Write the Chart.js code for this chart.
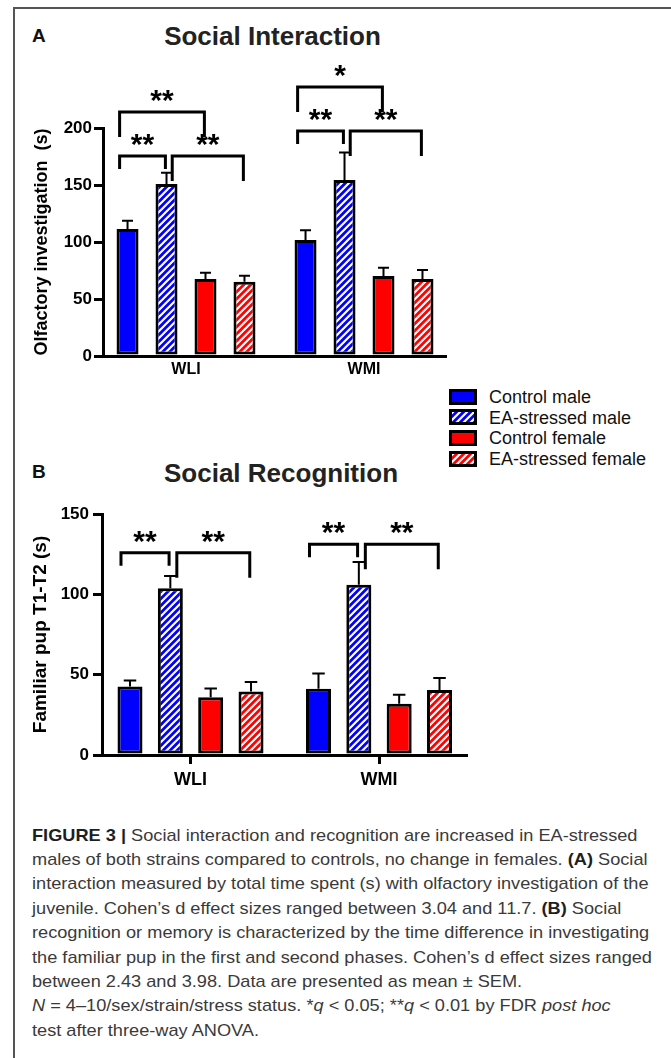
<!DOCTYPE html>
<html><head><meta charset="utf-8">
<script src="https://cdn.jsdelivr.net/npm/chart.js@4.4.1/dist/chart.umd.min.js"></script>
<style>
html,body{margin:0;padding:0;background:#fff;}
body{width:671px;height:1058px;position:relative;overflow:hidden;font-family:"Liberation Sans",Arial,Helvetica,sans-serif;}
.abs{position:absolute;white-space:nowrap;}
#frameTop{left:13px;top:7px;width:658px;height:2px;background:#555;}
#frameLeft{left:13px;top:7px;width:2px;height:1051px;background:#555;}
.panel{font-weight:bold;font-size:19px;line-height:19px;color:#111;}
.title{font-weight:bold;font-size:26px;line-height:26px;color:#222;transform:translateX(-50%);}
.lg{font-size:18px;line-height:18px;color:#111;}
.sw{position:absolute;}
#caption{left:31.7px;top:823.6px;font-size:17px;line-height:24.4px;color:#3a3a3a;transform-origin:0 0;}
#caption div{white-space:nowrap;}
#caption b{color:#1e1e1e;}
canvas{position:absolute;left:0;}
</style>
</head><body>
<div id="frameTop" class="abs"></div>
<div id="frameLeft" class="abs"></div>

<div class="abs panel" style="left:32px;top:26px;">A</div>
<div class="abs title" style="left:272.5px;top:23px;">Social Interaction</div>
<div class="abs panel" style="left:32px;top:462px;">B</div>
<div class="abs title" style="left:281px;top:460px;">Social Recognition</div>

<canvas id="chartA" width="671" height="386" style="top:0px;width:671px;height:386px;"></canvas>
<canvas id="chartB" width="671" height="305" style="top:490px;width:671px;height:305px;"></canvas>

<div id="legend"></div>

<div id="caption" class="abs">
<div><b>FIGURE 3 |</b> Social interaction and recognition are increased in EA-stressed</div>
<div>males of both strains compared to controls, no change in females. <b>(A)</b> Social</div>
<div>interaction measured by total time spent (s) with olfactory investigation of the</div>
<div>juvenile. Cohen’s d effect sizes ranged between 3.04 and 11.7. <b>(B)</b> Social</div>
<div>recognition or memory is characterized by the time difference in investigating</div>
<div id="capRef">the familiar pup in the first and second phases. Cohen’s d effect sizes ranged</div>
<div>between 2.43 and 3.98. Data are presented as mean ± SEM.</div>
<div><i>N</i> = 4–10/sex/strain/stress status. *<i>q</i> &lt; 0.05; **<i>q</i> &lt; 0.01 by FDR <i>post hoc</i></div>
<div>test after three-way ANOVA.</div>
</div>

<script>
// ---------------- DATA ----------------
const groups = ['WLI', 'WMI'];
const groupPos = [1, 2];
const seriesNames = ['Control male', 'EA-stressed male', 'Control female', 'EA-stressed female'];
const seriesColors = ['#0000ff', '#0000ff', '#ff0000', '#ff0000'];
const seriesHatched = [false, true, false, true];

// Panel A – Olfactory investigation (s), mean and SEM per strain
const aControlMale = [111.4, 101.8];
const aStressMale = [150.9, 154.4];
const aControlFemale = [67.5, 70.2];
const aStressFemale = [65.2, 67.5];
const aControlMaleSem = [7.3, 8.4];
const aStressMaleSem = [9.9, 24.0];
const aControlFemaleSem = [5.5, 7.3];
const aStressFemaleSem = [5.3, 7.9];
const aTicks = [0, 50, 100, 150, 200];

// Panel B – Familiar pup T1-T2 (s)
const bControlMale = [42.6, 41.2];
const bStressMale = [103.8, 106.0];
const bControlFemale = [36.0, 31.9];
const bStressFemale = [39.5, 40.4];
const bControlMaleSem = [3.8, 9.5];
const bStressMaleSem = [7.6, 14.1];
const bControlFemaleSem = [5.4, 5.6];
const bStressFemaleSem = [5.9, 7.6];
const bTicks = [0, 50, 100, 150];

// Significance brackets (group index, from series, to series, height in data units, label)
const sigAGroup = [0, 0, 0, 1, 1, 1];
const sigAFrom = [0, 1, 0, 0, 1, 0];
const sigATo = [1, 3, 2, 1, 3, 2];
const sigAHeight = [175.4, 175.4, 214, 197.4, 197.4, 236];
const sigALabel = ['**', '**', '**', '**', '**', '*'];

const sigBGroup = [0, 0, 1, 1];
const sigBFrom = [0, 1, 0, 1];
const sigBTo = [1, 3, 1, 3];
const sigBHeight = [125.9, 125.9, 131.1, 131.1];
const sigBLabel = ['**', '**', '**', '**'];

// ---------------- HELPERS ----------------
const FONT = '"Liberation Sans", Arial, Helvetica, sans-serif';

function hatchPattern(color) {
  const s = 7;
  const c = document.createElement('canvas');
  c.width = s; c.height = s;
  const x = c.getContext('2d');
  x.fillStyle = color; x.fillRect(0, 0, s, s);
  x.strokeStyle = '#ffffff'; x.lineWidth = 2.2;
  x.beginPath();
  x.moveTo(0, s); x.lineTo(s, 0);
  x.moveTo(-1, 1); x.lineTo(1, -1);
  x.moveTo(s - 1, s + 1); x.lineTo(s + 1, s - 1);
  x.stroke();
  return x.createPattern(c, 'repeat');
}
function fillFor(k) {
  return seriesHatched[k] ? hatchPattern(seriesColors[k]) : seriesColors[k];
}
function makeDatasets(series) {
  return series.map((arr, k) => ({
    label: seriesNames[k],
    data: arr.map((v, i) => ({ x: groupPos[i], y: v })),
    backgroundColor: fillFor(k),
    borderColor: '#000',
    borderWidth: 3,
    borderSkipped: false
  }));
}

const errorBarPlugin = {
  id: 'errorBars',
  afterDatasetsDraw(chart, args, o) {
    const ctx = chart.ctx, ys = chart.scales.y;
    ctx.save();
    ctx.strokeStyle = '#000'; ctx.lineWidth = o.lineWidth; ctx.lineCap = 'butt';
    o.sems.forEach((arr, k) => {
      const meta = chart.getDatasetMeta(k);
      meta.data.forEach((bar, i) => {
        const v = chart.data.datasets[k].data[i].y;
        const top = ys.getPixelForValue(v);
        const end = ys.getPixelForValue(v + arr[i]);
        const hw = bar.width * o.capFrac;
        ctx.beginPath();
        ctx.moveTo(bar.x, top); ctx.lineTo(bar.x, end);
        ctx.moveTo(bar.x - hw, end); ctx.lineTo(bar.x + hw, end);
        ctx.stroke();
      });
    });
    ctx.restore();
  }
};

const bracketPlugin = {
  id: 'brackets',
  afterDraw(chart, args, o) {
    const ctx = chart.ctx, ys = chart.scales.y;
    ctx.save();
    ctx.strokeStyle = '#000'; ctx.fillStyle = '#000';
    ctx.lineWidth = o.lineWidth; ctx.lineJoin = 'miter'; ctx.lineCap = 'butt';
    ctx.font = 'bold ' + o.starSize + 'px ' + FONT;
    ctx.textAlign = 'center'; ctx.textBaseline = 'alphabetic';
    o.group.forEach((g, n) => {
      const a = chart.getDatasetMeta(o.from[n]).data[g];
      const b = chart.getDatasetMeta(o.to[n]).data[g];
      const x1 = a.x + (o.from[n] === 0 ? -o.nudgeOuter : o.nudgeInner) * a.width;
      const x2 = b.x + o.nudgeRight * b.width;
      const yt = ys.getPixelForValue(o.height[n]);
      const big = (o.to[n] - o.from[n]) === 2;
      const legL = big ? o.legBig : (o.from[n] === 0 ? o.leg : o.legShort);
      const legR = big ? o.legBig : o.leg;
      ctx.beginPath();
      ctx.moveTo(x1, yt + legL); ctx.lineTo(x1, yt); ctx.lineTo(x2, yt); ctx.lineTo(x2, yt + legR);
      ctx.stroke();
      const m = ctx.measureText(o.label[n]);
      const cy = yt - o.starGap;
      const base = cy + (m.actualBoundingBoxAscent - m.actualBoundingBoxDescent) / 2;
      ctx.fillText(o.label[n], (x1 + x2) / 2, base);
    });
    ctx.restore();
  }
};

function buildChart(id, cfg) {
  return new Chart(document.getElementById(id), {
    type: 'bar',
    data: { datasets: makeDatasets(cfg.series) },
    options: {
      responsive: false,
      animation: false,
      devicePixelRatio: 1,
      layout: { padding: cfg.padding },
      datasets: { bar: { categoryPercentage: cfg.catPct, barPercentage: cfg.barPct, grouped: true } },
      plugins: {
        legend: { display: false },
        tooltip: { enabled: false },
        errorBars: { sems: cfg.sems, lineWidth: 2, capFrac: 0.25 },
        brackets: {
          group: cfg.sig.group, from: cfg.sig.from, to: cfg.sig.to, height: cfg.sig.height, label: cfg.sig.label,
          lineWidth: 3, leg: 13, legShort: 10, legBig: 25, starGap: 16, starSize: 30,
          nudgeOuter: 0.36, nudgeInner: 0.26, nudgeRight: -0.05
        }
      },
      scales: {
        x: {
          type: 'linear',
          min: cfg.xMin, max: cfg.xMax,
          offset: false,
          afterBuildTicks: s => { s.ticks = groupPos.map(v => ({ value: v })); },
          ticks: {
            callback: (v, i) => groups[i],
            font: { family: FONT, size: cfg.xFont, weight: 'bold' },
            color: '#000', padding: cfg.xPad, autoSkip: false, maxRotation: 0
          },
          grid: {
            display: cfg.xTicks, drawOnChartArea: false, drawTicks: cfg.xTicks, offset: false,
            color: '#000', lineWidth: 3, tickLength: 9
          },
          border: { display: true, color: '#000', width: 3 },
          afterFit: s => { s.height = cfg.xHeight; }
        },
        y: {
          min: 0, max: cfg.yTicks[cfg.yTicks.length - 1],
          afterBuildTicks: s => { s.ticks = cfg.yTicks.map(v => ({ value: v })); },
          ticks: {
            font: { family: FONT, size: 17, weight: 'bold' },
            color: '#000', padding: cfg.yPad
          },
          grid: { drawOnChartArea: false, drawTicks: true, color: '#000', lineWidth: 3, tickLength: 9 },
          border: { display: true, color: '#000', width: 3 },
          title: {
            display: true, text: cfg.yTitle, color: '#000',
            font: { family: FONT, size: cfg.yTitleSize, weight: 'bold' },
            padding: { top: cfg.yTitlePad, bottom: 0 }
          },
          afterFit: s => { s.width = cfg.yWidth; }
        }
      }
    },
    plugins: [errorBarPlugin, bracketPlugin]
  });
}

buildChart('chartA', {
  series: [aControlMale, aStressMale, aControlFemale, aStressFemale],
  sems: [aControlMaleSem, aStressMaleSem, aControlFemaleSem, aStressFemaleSem],
  sig: { group: sigAGroup, from: sigAFrom, to: sigATo, height: sigAHeight, label: sigALabel },
  yTicks: aTicks,
  yTitle: 'Olfactory investigation  (s)', yTitleSize: 18, yTitlePad: 31,
  padding: { top: 128, right: 226, left: 0, bottom: 0 },
  yWidth: 103, yPad: 2,
  xMin: 0.5337, xMax: 2.455, xHeight: 30, xFont: 16, xPad: 4, xTicks: false,
  catPct: 0.876, barPct: 0.564
});

buildChart('chartB', {
  series: [bControlMale, bStressMale, bControlFemale, bStressFemale],
  sems: [bControlMaleSem, bStressMaleSem, bControlFemaleSem, bStressFemaleSem],
  sig: { group: sigBGroup, from: sigBFrom, to: sigBTo, height: sigBHeight, label: sigBLabel },
  yTicks: bTicks,
  yTitle: 'Familiar pup T1-T2 (s)', yTitleSize: 19, yTitlePad: 29.6,
  padding: { top: 24, right: 205, left: 0, bottom: 0 },
  yWidth: 102, yPad: 4,
  xMin: 0.5305, xMax: 2.4615, xHeight: 40, xFont: 18, xPad: 5, xTicks: true,
  catPct: 0.856, barPct: 0.62
});

// ---------------- LEGEND ----------------
(function () {
  const lg = document.getElementById('legend');
  const rowCenters = [396.7, 417.4, 438.1, 458.8];
  seriesNames.forEach((name, k) => {
    const c = document.createElement('canvas');
    c.width = 28; c.height = 16;
    c.className = 'sw';
    c.style.left = '449px'; c.style.top = (rowCenters[k] - 8) + 'px';
    c.style.width = '28px'; c.style.height = '16px';
    const x = c.getContext('2d');
    x.fillStyle = '#000'; x.fillRect(0, 0, 28, 16);
    x.fillStyle = fillFor(k); x.fillRect(3, 3, 22, 10);
    lg.appendChild(c);
    const t = document.createElement('div');
    t.className = 'abs lg';
    t.style.left = '489px'; t.style.top = (rowCenters[k] - 8.8) + 'px';
    t.textContent = name;
    lg.appendChild(t);
  });
})();

// ---------------- CAPTION FIT ----------------
(function () {
  const ref = document.getElementById('capRef');
  const w = ref.getBoundingClientRect().width;
  const k = 620 / w;
  document.getElementById('caption').style.transform = 'scaleX(' + k + ')';
})();
</script>
</body></html>
